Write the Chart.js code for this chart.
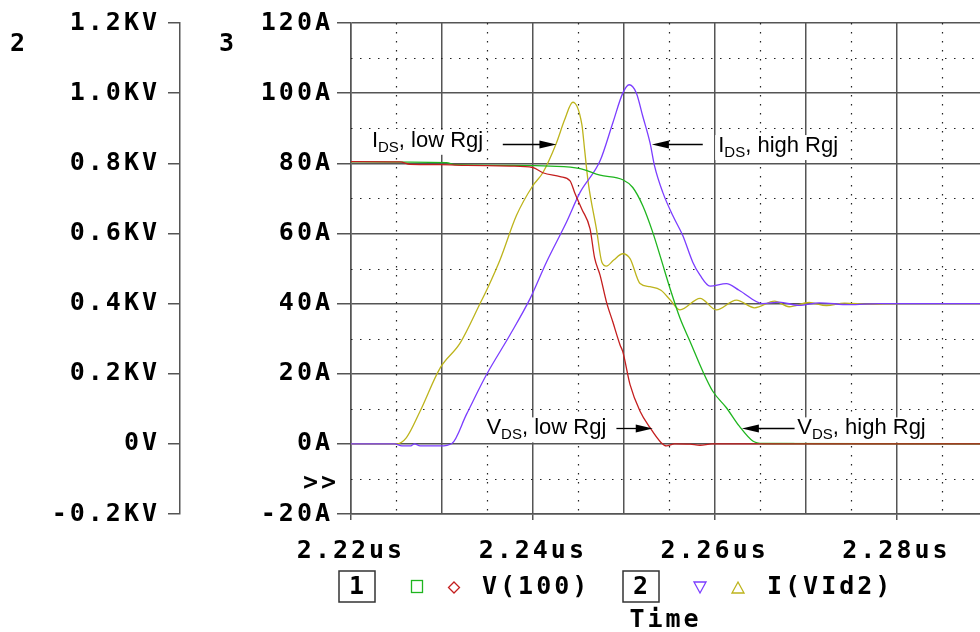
<!DOCTYPE html>
<html>
<head>
<meta charset="utf-8">
<script src="https://cdn.jsdelivr.net/npm/chart.js@4/dist/chart.umd.min.js"></script>
<style>
  html, body { margin: 0; padding: 0; background: #fff; overflow: hidden; }
  #wrap { width: 980px; height: 632px; }
</style>
</head>
<body>
<div id="wrap"><canvas id="myChart" width="980" height="632"></canvas></div>
<script>
// axis ticks
const timeTicks = [2.22, 2.23, 2.24, 2.25, 2.26, 2.27, 2.28];
const timeTickLabels = ['2.22us', '', '2.24us', '', '2.26us', '', '2.28us'];
const timeMinor = [2.225, 2.235, 2.245, 2.255, 2.265, 2.275, 2.285];
const voltTicks = [-0.2, 0, 0.2, 0.4, 0.6, 0.8, 1.0, 1.2];
const voltTickLabels = ['-0.2KV', '0V', '0.2KV', '0.4KV', '0.6KV', '0.8KV', '1.0KV', '1.2KV'];
const ampTicks = [-20, 0, 20, 40, 60, 80, 100, 120];
const ampTickLabels = ['-20A', '0A', '20A', '40A', '60A', '80A', '100A', '120A'];
const ampMinor = [-10, 10, 30, 50, 70, 90, 110];

// V(100), low Rgj (KV)
const tVLow = [2.2200, 2.2254, 2.2265, 2.2298, 2.2327, 2.2375, 2.2400, 2.2411, 2.2430, 2.2441,
  2.2446, 2.2454, 2.2463, 2.2468, 2.2474, 2.2481, 2.2488, 2.2496, 2.2499, 2.2507,
  2.2518, 2.2529, 2.2541, 2.2547, 2.2556, 2.2573, 2.2584, 2.2597, 2.2892];
const vLow = [0.805, 0.804, 0.797, 0.796, 0.794, 0.792, 0.788, 0.773, 0.762, 0.750,
  0.717, 0.669, 0.613, 0.530, 0.481, 0.405, 0.348, 0.282, 0.263, 0.169,
  0.093, 0.046, 0.004, -0.006, 0.000, -0.001, -0.004, 0.000, 0.000];

// V(100), high Rgj (KV)
const tVHigh = [2.2200, 2.2305, 2.2314, 2.2375, 2.2419, 2.2452, 2.2474, 2.2499, 2.2510, 2.2521,
  2.2532, 2.2541, 2.2551, 2.2562, 2.2573, 2.2587, 2.2598, 2.2613, 2.2627, 2.2642,
  2.2653, 2.2892];
const vHigh = [0.804, 0.802, 0.796, 0.794, 0.792, 0.785, 0.766, 0.753, 0.731, 0.679,
  0.603, 0.528, 0.443, 0.358, 0.292, 0.207, 0.150, 0.103, 0.051, 0.008,
  0.001, 0.000];

// I(VId2), low Rgj (A)
const tILow = [2.2200, 2.2250, 2.2261, 2.2276, 2.2298, 2.2320, 2.2342, 2.2351, 2.2364, 2.2382,
  2.2400, 2.2411, 2.2426, 2.2435, 2.2444, 2.2454, 2.2457, 2.2461, 2.2470, 2.2476,
  2.2481, 2.2489, 2.2499, 2.2507, 2.2518, 2.2529, 2.2541, 2.2551, 2.2562, 2.2584,
  2.2602, 2.2624, 2.2644, 2.2666, 2.2682, 2.2704, 2.2723, 2.2743, 2.2771, 2.2804, 2.2892];
const iLow = [0, 0, 1.8, 9.3, 21.6, 28.7, 40.0, 44.8, 52.5, 65.1,
  73.6, 77.3, 85.8, 92.4, 97.4, 91.0, 83.9, 74.5, 61.3, 51.8,
  50.7, 52.4, 54.2, 52.8, 45.7, 44.8, 43.8, 41.1, 38.2, 41.5,
  38.2, 41.0, 38.8, 40.7, 39.1, 40.3, 39.4, 40.1, 39.8, 40.0, 40.0];

// I(VId2), high Rgj (A)
const tIHigh = [2.2200, 2.2248, 2.2256, 2.2265, 2.2270, 2.2276, 2.2298, 2.2311, 2.2327, 2.2349,
  2.2375, 2.2397, 2.2415, 2.2437, 2.2452, 2.2474, 2.2488, 2.2499, 2.2506, 2.2514,
  2.2521, 2.2529, 2.2534, 2.2543, 2.2554, 2.2565, 2.2576, 2.2584, 2.2595, 2.2613,
  2.2627, 2.2653, 2.2671, 2.2693, 2.2715, 2.2748, 2.2781, 2.2892];
const iHigh = [0, 0, -0.6, -0.6, 0, -0.6, -0.6, 0.1, 8.4, 19.7,
  31.1, 41.4, 51.8, 63.2, 71.7, 80.7, 91.5, 100.0, 102.4, 100.0,
  93.4, 85.8, 79.2, 71.7, 65.1, 59.4, 51.8, 48.1, 45.0, 45.7,
  43.8, 40.0, 40.4, 39.5, 40.2, 39.7, 40.0, 40.0];

const RED = '#c41e1e', GREEN = '#1fb51f', PURPLE = '#7b3dff', YELLOW = '#bdb41c';
const GRID = '#555';
const MONO = '"DejaVu Sans Mono", monospace';
const SANS = '"Liberation Sans", Arial, sans-serif';
const SPACING = '3px';

// text labels with arrows, placed in data units of the A axis
const notes = [
  { main: 'I', sub: 'DS', rest: ', low Rgj', t: 2.2223, y: 84.7, from: 2.2367, to: 2.2426, ay: 85.5 },
  { main: 'I', sub: 'DS', rest: ', high Rgj', t: 2.2604, y: 83.2, from: 2.2587, to: 2.2531, ay: 85.5 },
  { main: 'V', sub: 'DS', rest: ', low Rgj', t: 2.2349, y: 2.7, from: 2.2492, to: 2.2532, ay: 4.6 },
  { main: 'V', sub: 'DS', rest: ', high Rgj', t: 2.2691, y: 2.7, from: 2.2688, to: 2.2630, ay: 4.6 }
];

function pts(ts, vs) {
  return ts.map((t, i) => ({ x: t, y: vs[i] }));
}

function arrow(c, x1, x2, y) {
  const dir = x2 > x1 ? 1 : -1;
  c.beginPath();
  c.moveTo(x1, y);
  c.lineTo(x2 - dir * 14, y);
  c.strokeStyle = '#000';
  c.lineWidth = 1.3;
  c.stroke();
  c.beginPath();
  c.moveTo(x2, y);
  c.lineTo(x2 - dir * 17, y - 4);
  c.lineTo(x2 - dir * 17, y + 4);
  c.closePath();
  c.fillStyle = '#000';
  c.fill();
}

const pspice = {
  id: 'pspice',
  beforeLayout(chart) { chart.ctx.letterSpacing = SPACING; },
  beforeDraw(chart) { chart.ctx.letterSpacing = SPACING; },
  beforeDatasetsDraw(chart) {
    // dotted half-step grid
    const c = chart.ctx, area = chart.chartArea;
    const xs = chart.scales.x, ya = chart.scales.a;
    c.save();
    c.beginPath();
    c.rect(area.left, area.top, area.right - area.left, area.bottom - area.top);
    c.clip();
    c.setLineDash([1.5, 7.5]);
    c.strokeStyle = '#222';
    c.lineWidth = 1.2;
    timeMinor.forEach(v => {
      const x = Math.round(xs.getPixelForValue(v)) + 0.5;
      c.beginPath(); c.moveTo(x, area.top); c.lineTo(x, area.bottom); c.stroke();
    });
    ampMinor.forEach(v => {
      const y = Math.round(ya.getPixelForValue(v)) + 0.5;
      c.beginPath(); c.moveTo(area.left, y); c.lineTo(area.right, y); c.stroke();
    });
    c.restore();
  },
  afterDraw(chart) {
    const c = chart.ctx, area = chart.chartArea;
    const xs = chart.scales.x, ya = chart.scales.a, yv = chart.scales.v;

    // annotations
    c.save();
    c.letterSpacing = '0px';
    notes.forEach(n => {
      const x = xs.getPixelForValue(n.t), y = ya.getPixelForValue(n.y);
      c.font = '22px ' + SANS;
      const w1 = c.measureText(n.main).width;
      const w3 = c.measureText(n.rest).width;
      c.font = '15px ' + SANS;
      const w2 = c.measureText(n.sub).width;
      c.fillStyle = '#fff';
      c.fillRect(x - 3, y - 17, w1 + w2 + w3 + 6, 25);
      c.fillStyle = '#000';
      c.textBaseline = 'alphabetic';
      c.textAlign = 'left';
      c.font = '22px ' + SANS;
      c.fillText(n.main, x, y);
      c.fillText(n.rest, x + w1 + w2, y);
      c.font = '15px ' + SANS;
      c.fillText(n.sub, x + w1, y + 5);
      const ay = Math.round(ya.getPixelForValue(n.ay)) + 0.5;
      arrow(c, xs.getPixelForValue(n.from), xs.getPixelForValue(n.to), ay);
    });
    c.restore();

    // axis numbers and active-axis marker
    c.save();
    c.letterSpacing = SPACING;
    c.font = 'bold 25px ' + MONO;
    c.fillStyle = '#000';
    c.textBaseline = 'middle';
    c.textAlign = 'left';
    c.fillText('2', yv.left + 10, area.top + 21);
    c.fillText('3', ya.left + 39, area.top + 21);
    c.textAlign = 'right';
    c.fillText('>>', ya.right - 12, ya.getPixelForValue(-11.2));

    // legend row
    const L = area.left, yc = area.bottom + 73;
    c.strokeStyle = '#333';
    c.lineWidth = 1.5;
    c.strokeRect(L - 12, yc - 16, 36, 31);
    c.strokeRect(L + 272, yc - 16, 36, 31);
    c.textAlign = 'left';
    c.fillText('1', L - 2, yc);
    c.fillText('2', L + 282, yc);
    c.fillText('V(100)', L + 131, yc);
    c.fillText('I(VId2)', L + 416, yc);

    c.lineWidth = 1.3;
    c.strokeStyle = GREEN;
    c.strokeRect(L + 60.5, yc - 6.5, 11, 12);
    c.strokeStyle = RED;
    let cx = L + 103;
    c.beginPath();
    c.moveTo(cx, yc - 5); c.lineTo(cx + 5.5, yc + 0.5); c.lineTo(cx, yc + 6); c.lineTo(cx - 5.5, yc + 0.5);
    c.closePath(); c.stroke();
    c.strokeStyle = PURPLE;
    cx = L + 349;
    c.beginPath();
    c.moveTo(cx - 6, yc - 5); c.lineTo(cx + 6, yc - 5); c.lineTo(cx, yc + 6);
    c.closePath(); c.stroke();
    c.strokeStyle = YELLOW;
    cx = L + 387;
    c.beginPath();
    c.moveTo(cx - 6, yc + 6); c.lineTo(cx + 6, yc + 6); c.lineTo(cx, yc - 5);
    c.closePath(); c.stroke();
    c.restore();
  }
};

const lineStyle = {
  pointRadius: 0,
  borderWidth: 1.3,
  fill: false,
  cubicInterpolationMode: 'monotone'
};

const data = {
  datasets: [
    Object.assign({ label: 'V(100) low Rgj', data: pts(tVLow, vLow), yAxisID: 'v', borderColor: RED }, lineStyle),
    Object.assign({ label: 'V(100) high Rgj', data: pts(tVHigh, vHigh), yAxisID: 'v', borderColor: GREEN }, lineStyle),
    Object.assign({ label: 'I(VId2) high Rgj', data: pts(tIHigh, iHigh), yAxisID: 'a', borderColor: PURPLE }, lineStyle),
    Object.assign({ label: 'I(VId2) low Rgj', data: pts(tILow, iLow), yAxisID: 'a', borderColor: YELLOW }, lineStyle)
  ]
};

const tickFont = { family: MONO, size: 25, weight: 'bold' };

const config = {
  type: 'line',
  data,
  plugins: [pspice],
  options: {
    responsive: false,
    animation: false,
    layout: { padding: { top: 19, right: 0, bottom: 0, left: 0 } },
    plugins: { legend: { display: false }, tooltip: { enabled: false } },
    scales: {
      x: {
        type: 'linear',
        position: 'bottom',
        min: 2.22,
        max: 2.2892,
        afterBuildTicks: s => { s.ticks = timeTicks.map(v => ({ value: v })); },
        afterFit: s => { s.height = 118; },
        grid: {
          color: GRID,
          lineWidth: 1.5,
          tickLength: 6,
          tickColor: c => (timeTickLabels[c.index] ? GRID : 'rgba(0,0,0,0)')
        },
        border: { color: GRID, width: 1.5 },
        ticks: {
          autoSkip: false,
          maxRotation: 0,
          padding: 16,
          color: '#000',
          font: tickFont,
          callback: (v, i) => timeTickLabels[i]
        },
        title: {
          display: true,
          text: 'Time',
          color: '#000',
          font: { family: MONO, size: 25, weight: 'bold', lineHeight: 0.9 },
          padding: { top: 0, bottom: 0 }
        }
      },
      v: {
        type: 'linear',
        position: 'left',
        weight: 2,
        min: -0.2,
        max: 1.2,
        afterBuildTicks: s => { s.ticks = voltTicks.map(v => ({ value: v })); },
        afterFit: s => { s.width = 180; },
        grid: { drawOnChartArea: false, color: GRID, lineWidth: 1.5, tickLength: 12 },
        border: { color: GRID, width: 1.5 },
        ticks: { padding: 8, color: '#000', font: tickFont, callback: (v, i) => voltTickLabels[i] }
      },
      a: {
        type: 'linear',
        position: 'left',
        weight: 1,
        min: -20,
        max: 120,
        afterBuildTicks: s => { s.ticks = ampTicks.map(v => ({ value: v })); },
        afterFit: s => { s.width = 171; },
        grid: { color: GRID, lineWidth: 1.5, tickLength: 14 },
        border: { color: GRID, width: 1.5 },
        ticks: { padding: 4, color: '#000', font: tickFont, callback: (v, i) => ampTickLabels[i] }
      }
    }
  }
};

const myChart = new Chart(document.getElementById('myChart'), config);
</script>
</body>
</html>
